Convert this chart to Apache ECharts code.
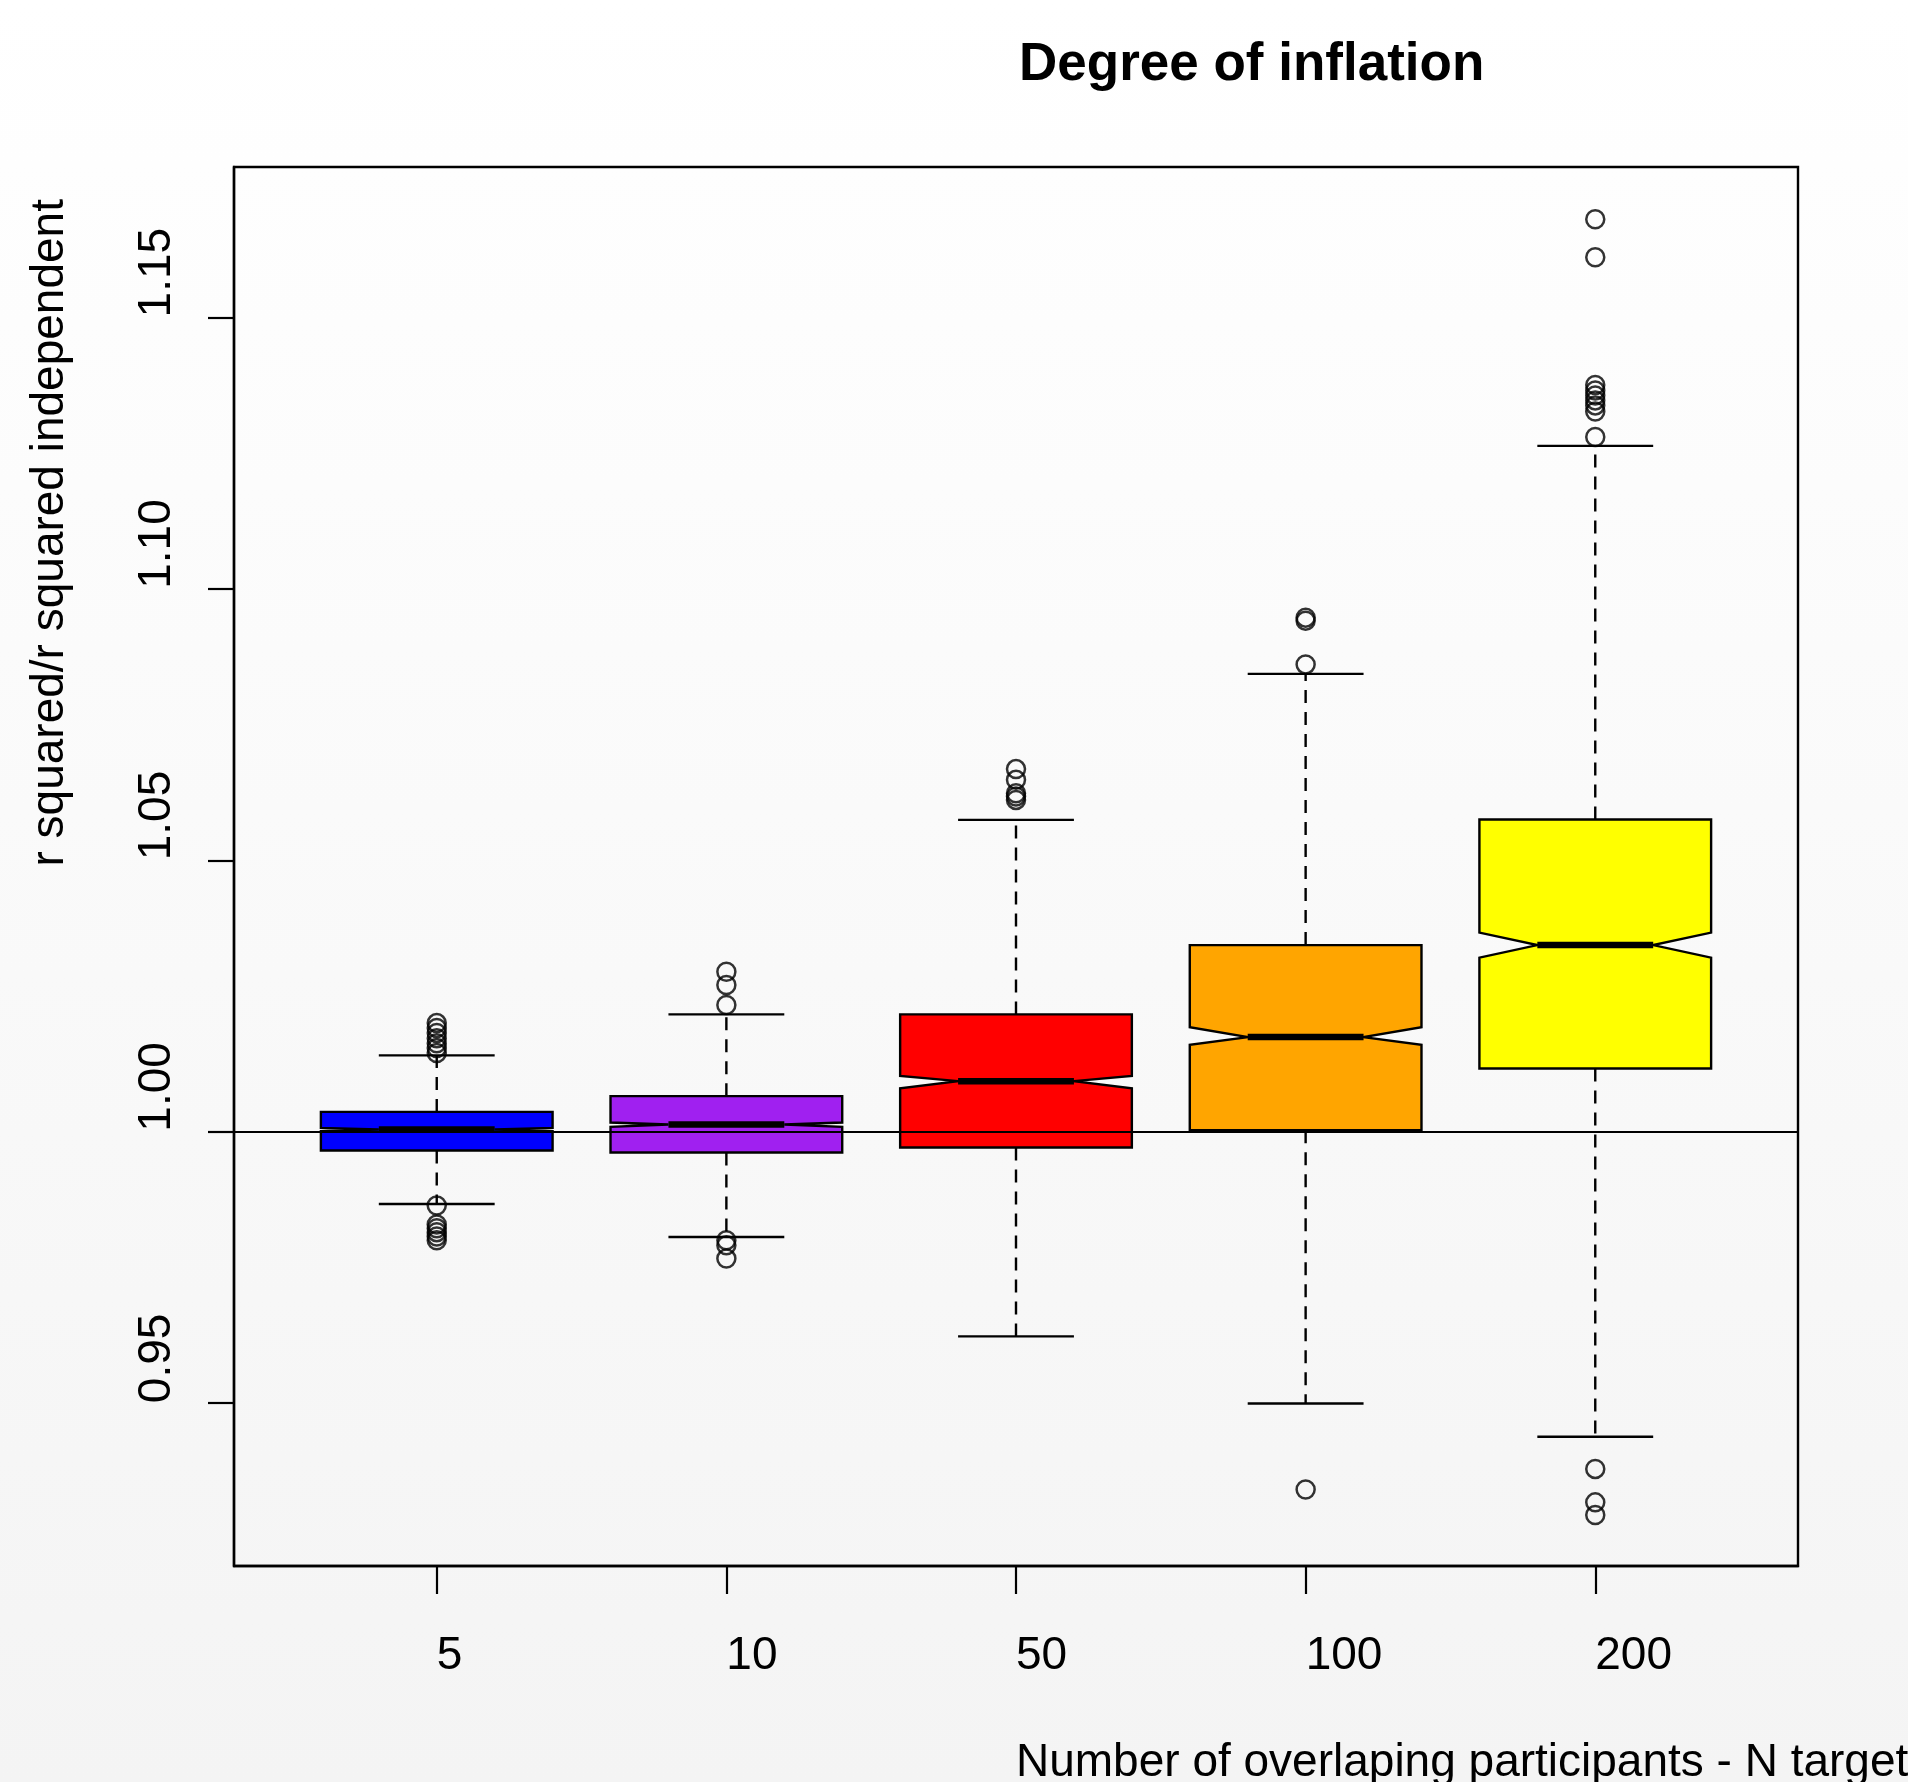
<!DOCTYPE html>
<html>
<head>
<meta charset="utf-8">
<script src="https://cdn.jsdelivr.net/npm/echarts@6/dist/echarts.min.js"></script>
<style>
html, body { margin: 0; padding: 0; }
body { width: 1908px; height: 1782px; background: linear-gradient(to bottom, #ffffff 0%, #f4f4f4 100%); }
#chart { width: 1908px; height: 1782px; }
</style>
</head>
<body>
<div id="chart"></div>
<script>
// ---- data ----
const categories  = ['5', '10', '50', '100', '200'];
const positions   = [1, 2, 3, 4, 5];
const boxColors   = ['#0000FF', '#A020F0', '#FF0000', '#FFA500', '#FFFF00'];
const whiskerLow  = [0.98669, 0.98060, 0.96229, 0.94992, 0.94381];
const q1          = [0.99653, 0.99616, 0.99709, 1.00028, 1.01165];
const notchLow    = [1.00012, 1.00089, 1.00797, 1.01602, 1.03207];
const median      = [1.00041, 1.00133, 1.00931, 1.01743, 1.03437];
const notchHigh   = [1.00070, 1.00170, 1.01029, 1.01923, 1.03668];
const q3          = [1.00365, 1.00655, 1.02161, 1.03437, 1.05751];
const whiskerHigh = [1.01405, 1.02161, 1.05744, 1.08434, 1.12633];
const outliers5   = [1.0200, 1.0191, 1.0182, 1.0172, 1.0163, 1.0154, 1.0145, 0.9864, 0.9829, 0.9822, 0.9815, 0.9807, 0.9800];
const outliers10  = [1.02947, 1.02701, 1.02333, 0.97999, 0.97907, 0.97662];
const outliers50  = [1.06679, 1.06481, 1.06236, 1.06173, 1.06112];
const outliers100 = [1.09469, 1.09414, 1.08608, 0.93411];
const outliers200 = [1.16806, 1.16107, 1.13753, 1.13655, 1.13563, 1.13471, 1.13379, 1.13268, 1.12797, 0.93789, 0.93172, 0.92941];
const yTicks = [0.95, 1.00, 1.05, 1.10, 1.15];
const referenceLine = 1.0;

// ---- build library data ----
const boxData = positions.map((p, i) => [p, whiskerLow[i], q1[i], notchLow[i], median[i], notchHigh[i], q3[i], whiskerHigh[i]]);
const outlierGroups = [outliers5, outliers10, outliers50, outliers100, outliers200];
const outlierData = [];
outlierGroups.forEach((g, i) => g.forEach(v => outlierData.push([positions[i], v])));

const FONT = '"Liberation Sans", Arial, Helvetica, sans-serif';
const HALF_BOX = 0.4, HALF_NOTCH = 0.2, HALF_CAP = 0.2;

const chart = echarts.init(document.getElementById('chart'), null, { renderer: 'canvas' });
chart.setOption({
  backgroundColor: 'transparent',
  animation: false,
  title: {
    text: 'Degree of inflation',
    left: 1014, top: 34,
    textStyle: { fontFamily: FONT, fontSize: 53, fontWeight: 'bold', color: '#000' }
  },
  grid: {
    left: 234, right: 110, top: 167, bottom: 216,
    containLabel: false, outerBoundsMode: 'none',
    show: true, borderColor: '#000', borderWidth: 2.4, backgroundColor: 'transparent'
  },
  xAxis: {
    type: 'value', min: 0.3, max: 5.7,
    axisLine: { show: true, lineStyle: { color: '#000', width: 2.4 } },
    splitLine: { show: false },
    axisTick: { show: true, customValues: positions, length: 28, lineStyle: { color: '#000', width: 2.2 } },
    axisLabel: {
      customValues: positions,
      formatter: v => categories[Math.round(v) - 1],
      align: 'left', verticalAlign: 'middle', margin: 90,
      fontFamily: FONT, fontSize: 46, color: '#000'
    },
    name: 'Number of overlaping participants - N target',
    nameLocation: 'middle', nameGap: 197,
    nameTextStyle: { align: 'left', verticalAlign: 'middle', fontFamily: FONT, fontSize: 46, color: '#000' }
  },
  yAxis: {
    type: 'value', min: 0.92, max: 1.1777,
    axisLine: { show: true, lineStyle: { color: '#000', width: 2.4 } },
    splitLine: { show: false },
    axisTick: { show: true, customValues: yTicks, length: 26, lineStyle: { color: '#000', width: 2.2 } },
    axisLabel: {
      customValues: yTicks,
      formatter: v => v.toFixed(2),
      rotate: 90, align: 'left', verticalAlign: 'middle', margin: 77,
      fontFamily: FONT, fontSize: 46, color: '#000'
    },
    name: 'r squared/r squared independent',
    nameLocation: 'middle', nameGap: 184, nameRotate: 90,
    nameTextStyle: { align: 'left', verticalAlign: 'middle', fontFamily: FONT, fontSize: 46, color: '#000' }
  },
  series: [
    {
      type: 'custom',
      z: 2,
      data: boxData,
      renderItem: function (params, api) {
        const x = api.value(0);
        const wl = api.value(1), b1 = api.value(2), nl = api.value(3), md = api.value(4),
              nh = api.value(5), b3 = api.value(6), wh = api.value(7);
        const P = (dx, v) => api.coord([x + dx, v]);
        const line = (a, b, style) => ({ type: 'line', shape: { x1: a[0], y1: a[1], x2: b[0], y2: b[1] }, style: style });
        const dashed = { stroke: '#000', lineWidth: 2.4, lineDash: [13, 9] };
        const solid = { stroke: '#000', lineWidth: 2.4 };
        const pts = [
          P(-HALF_BOX, b1), P(-HALF_BOX, nl), P(-HALF_NOTCH, md), P(-HALF_BOX, nh), P(-HALF_BOX, b3),
          P(HALF_BOX, b3), P(HALF_BOX, nh), P(HALF_NOTCH, md), P(HALF_BOX, nl), P(HALF_BOX, b1)
        ];
        return {
          type: 'group',
          children: [
            line(P(0, b3), P(0, wh), dashed),
            line(P(0, b1), P(0, wl), dashed),
            line(P(-HALF_CAP, wh), P(HALF_CAP, wh), solid),
            line(P(-HALF_CAP, wl), P(HALF_CAP, wl), solid),
            { type: 'polygon', shape: { points: pts }, style: { fill: boxColors[params.dataIndex], stroke: '#000', lineWidth: 2.4, lineJoin: 'miter' } },
            line(P(-HALF_NOTCH, md), P(HALF_NOTCH, md), { stroke: '#000', lineWidth: 6.5 })
          ]
        };
      }
    },
    {
      type: 'scatter',
      z: 3,
      data: outlierData,
      symbol: 'circle',
      symbolSize: 18,
      itemStyle: { color: 'rgba(0,0,0,0)', borderColor: '#000', borderWidth: 2.5 },
      markLine: {
        silent: true,
        symbol: ['none', 'none'],
        label: { show: false },
        lineStyle: { color: '#000', width: 2.2, type: 'solid' },
        data: [{ yAxis: referenceLine }]
      }
    }
  ]
});
</script>
</body>
</html>
